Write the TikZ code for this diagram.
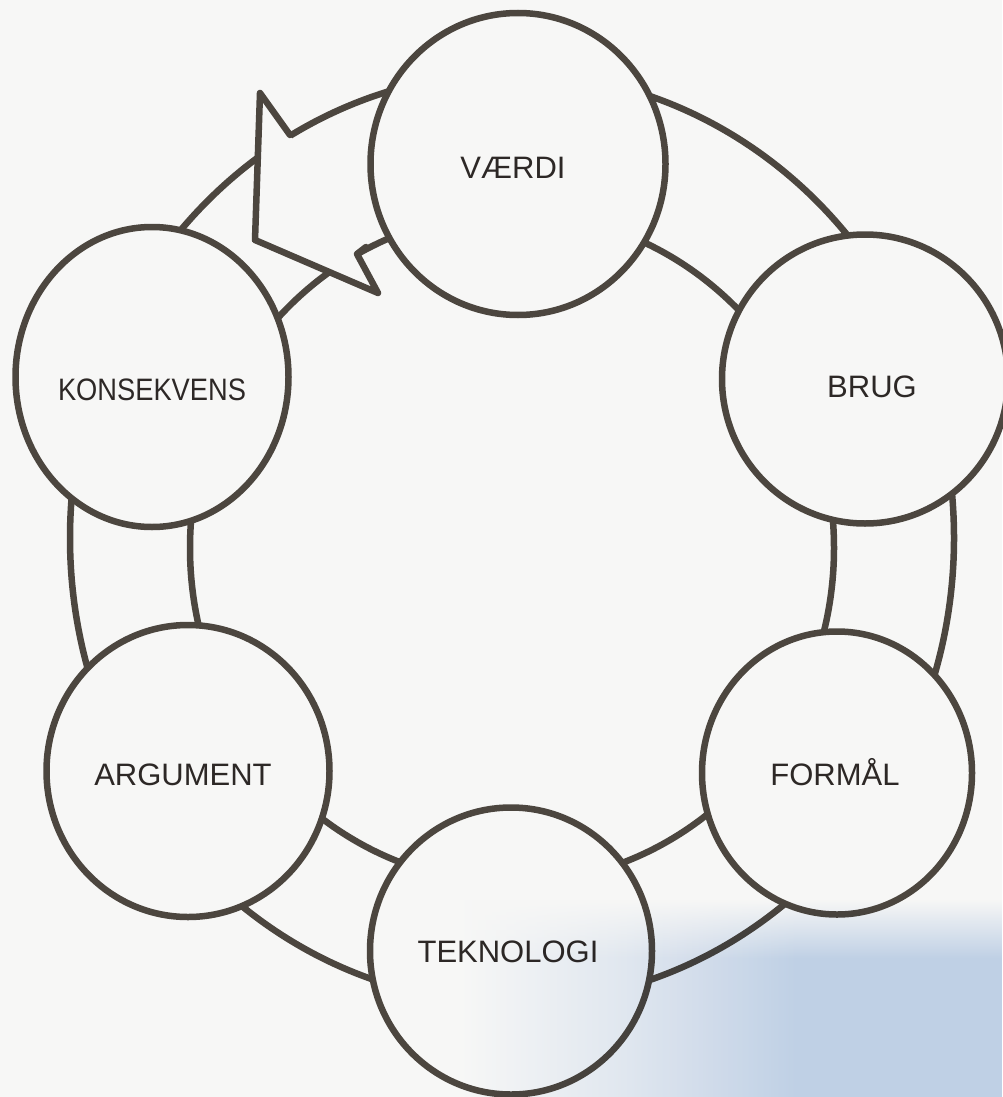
\documentclass[tikz,border=0pt]{standalone}
\usepackage{fontspec}
\setmainfont{Liberation Sans}
\usetikzlibrary{shapes.geometric,fadings}
\definecolor{ink}{RGB}{76,70,63}
\definecolor{txt}{RGB}{45,40,38}
\definecolor{paper}{RGB}{247,247,246}
\definecolor{shadowblue}{RGB}{198,215,238}
\pgfdeclarehorizontalshading{photoblue}{100bp}{color(0bp)=(white); color(25bp)=(white);
  color(40bp)=(shadowblue!40!white); color(56bp)=(shadowblue); color(100bp)=(shadowblue)}
\pgfdeclareverticalshading{topfadeshade}{100bp}{color(0bp)=(white); color(60bp)=(white);
  color(75bp)=(black); color(100bp)=(black)}
\pgfdeclarefading{topfade}{\pgfuseshading{topfadeshade}}
\begin{document}
\begin{tikzpicture}[x=1pt,y=-1pt,line join=round,line cap=round,
  ringline/.style={draw=ink,line width=6.5pt},
  bubble/.style={ellipse,draw=ink,line width=6.5pt,fill=paper,inner sep=0pt},
  lbl/.style={text=txt,font=\fontsize{31}{31}\selectfont,inner sep=0pt}]
\useasboundingbox (0,0) rectangle (1002,1097);
\fill[paper] (0,0) rectangle (1002,1097);

% ring band: outer and inner edge
\coordinate (ringout) at (512,538);
\coordinate (ringin) at (512,548);
\draw[ringline] (ringout) ellipse [x radius=442pt, y radius=465pt];
\draw[ringline] (ringin) ellipse [x radius=322pt, y radius=335pt];

% arrow head
\coordinate (bt) at (260,93);
\coordinate (nt) at (290,135);
\coordinate (tip) at (255,240);
\coordinate (bb) at (378,293);
\coordinate (nb) at (357,254);
\coordinate (nb2) at (366,247);
\fill[paper] (nt) -- (bt) -- (tip) -- (bb) -- (nb) -- cycle;
\draw[ringline] (nt) -- (bt) -- (tip) -- (bb) -- (nb) -- (nb2);

% circles
\node[bubble,minimum width=295pt,minimum height=302pt] (vaerdi) at (518,164) {};
\node[bubble,minimum width=286pt,minimum height=289pt] (brug) at (865,379) {};
\node[bubble,minimum width=270pt,minimum height=283pt] (formal) at (837,773) {};
\node[bubble,minimum width=282pt,minimum height=287pt] (tekno) at (511,951) {};
\node[bubble,minimum width=283pt,minimum height=292pt] (argument) at (188,771) {};
\node[bubble,minimum width=273pt,minimum height=300pt] (konsek) at (152,377) {};

% labels
\node[lbl] (tvaerdi) at (513,168) {VÆRDI};
\node[lbl] (tbrug) at (872,387) {BRUG};
\node[lbl] (tformal) at (835,772) {FORMÅL};
\node[lbl] (ttekno) at (508,952) {TEKNOLOGI};
\node[lbl] (targument) at (183,775) {ARGUMENT};
\node[lbl] (tkonsek) at (152,390) {\scalebox{0.88}[1]{KONSEKVENS}};

% light blue shadow of the photo
\shade[shading=photoblue,blend mode=multiply,path fading=topfade]
  (460,900) rectangle (1002,1097);
\end{tikzpicture}
\end{document}
